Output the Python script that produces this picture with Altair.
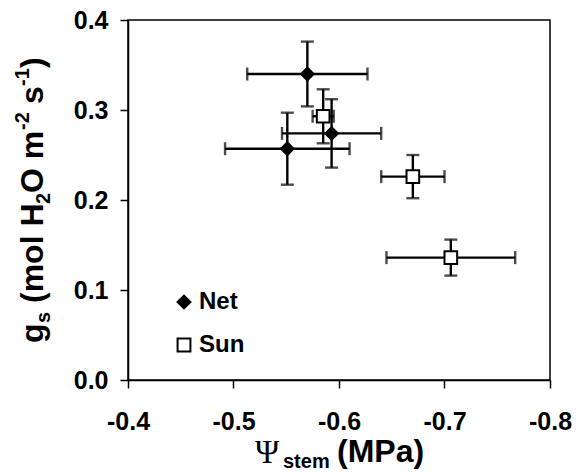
import altair as alt
import pandas as pd

# ---- data ----
series = ["Net", "Net", "Net", "Sun", "Sun", "Sun"]
psi = [-0.570, -0.593, -0.551, -0.585, -0.670, -0.706]
psi_err = [0.057, 0.047, 0.059, 0.010, 0.030, 0.061]
gs = [0.340, 0.274, 0.257, 0.293, 0.226, 0.136]
gs_err = [0.036, 0.038, 0.040, 0.030, 0.024, 0.020]

x_ticks = [-0.4, -0.5, -0.6, -0.7, -0.8]
y_ticks = [0.0, 0.1, 0.2, 0.3, 0.4]
legend_names = ["Net", "Sun"]
legend_shapes = ["diamond", "square"]
legend_fills = ["black", "white"]
legend_strokes = ["black", "black"]

df = pd.DataFrame({"series": series, "psi": psi, "psi_err": psi_err, "gs": gs, "gs_err": gs_err})
df["psi_lo"] = df["psi"] - df["psi_err"]
df["psi_hi"] = df["psi"] + df["psi_err"]
df["gs_lo"] = df["gs"] - df["gs_err"]
df["gs_hi"] = df["gs"] + df["gs_err"]

SANS = "Arial, Liberation Sans, sans-serif"
W, H = 422, 360
L, T = 128, 20

xs = alt.Scale(domain=[-0.4, -0.8], nice=False, zero=False)
ys = alt.Scale(domain=[0.0, 0.4], nice=False, zero=False)

lbl = "datum.value < 0 ? '-' + format(-datum.value, '.1f') : format(datum.value, '.1f')"
X = alt.X("psi:Q", scale=xs, axis=alt.Axis(values=x_ticks, labelExpr=lbl, title="", grid=False,
                                            labelFlush=False))
Y = alt.Y("gs:Q", scale=ys, axis=alt.Axis(values=y_ticks, format=".1f", title="", grid=False,
                                           labelFlush=False))

base = alt.Chart(df)
BW = 2.4

vbar = base.mark_rule(color="black", strokeWidth=BW).encode(
    x=alt.X("psi:Q", scale=xs), y=alt.Y("gs_lo:Q", scale=ys), y2="gs_hi:Q")
hbar = base.mark_rule(color="black", strokeWidth=BW).encode(
    y=alt.Y("gs:Q", scale=ys), x=alt.X("psi_lo:Q", scale=xs), x2="psi_hi:Q")
cap_lo = base.mark_tick(color="black", orient="horizontal", size=13, thickness=BW).encode(
    x=alt.X("psi:Q", scale=xs), y=alt.Y("gs_lo:Q", scale=ys))
cap_hi = base.mark_tick(color="black", orient="horizontal", size=13, thickness=BW).encode(
    x=alt.X("psi:Q", scale=xs), y=alt.Y("gs_hi:Q", scale=ys))
cap_l = base.mark_tick(color="black", orient="vertical", size=13, thickness=BW).encode(
    x=alt.X("psi_lo:Q", scale=xs), y=alt.Y("gs:Q", scale=ys))
cap_r = base.mark_tick(color="black", orient="vertical", size=13, thickness=BW).encode(
    x=alt.X("psi_hi:Q", scale=xs), y=alt.Y("gs:Q", scale=ys))

pts = base.mark_point(filled=True, strokeWidth=2, size=160, opacity=1).encode(
    x=X, y=Y,
    shape=alt.Shape("series:N", scale=alt.Scale(domain=legend_names, range=legend_shapes),
                    legend=alt.Legend(title=None, orient="none", legendX=44, legendY=270,
                                      labelFont=SANS, labelFontWeight="bold", labelFontSize=24,
                                      labelColor="black", symbolStrokeWidth=2, symbolSize=165,
                                      rowPadding=19, labelOffset=3, padding=0)),
    fill=alt.Fill("series:N", scale=alt.Scale(domain=legend_names, range=legend_fills)),
    stroke=alt.Stroke("series:N", scale=alt.Scale(domain=legend_names, range=legend_strokes)),
)


def txt(s, x, y, size, angle=0, font=SANS, weight="bold"):
    kw = dict(align="left", baseline="alphabetic", fontSize=size, font=font,
              fontWeight=weight, color="black")
    if angle:
        kw["angle"] = angle
    return alt.Chart(pd.DataFrame({"t": [s]})).mark_text(**kw).encode(
        text="t:N", x=alt.value(x - L), y=alt.value(y - T))


MAIN, SUB = 32, 20
titles = [
    # x title
    txt("\u03a8", 255, 463, 33, font="Liberation Serif, Times New Roman, serif", weight="normal"),
    txt("stem", 283, 468, SUB),
    txt("(MPa)", 337, 462, MAIN),
    # y title (rotated)
    txt("g", 43, 343, MAIN, angle=270),
    txt("s", 50, 323, SUB, angle=270),
    txt("(mol H", 43, 303, MAIN, angle=270),
    txt("2", 50, 204, SUB, angle=270),
    txt("O m", 43, 193, MAIN, angle=270),
    txt("-2", 29, 130, SUB, angle=270),
    txt("s", 43, 104, MAIN, angle=270),
    txt("-1", 29, 86, SUB, angle=270),
    txt(")", 43, 68, MAIN, angle=270),
]

chart = alt.layer(vbar, hbar, cap_lo, cap_hi, cap_l, cap_r, pts, *titles).properties(
    width=W, height=H,
    autosize=alt.AutoSizeParams(type="none"),
    padding={"left": L, "top": T, "right": 582 - L - W, "bottom": 472 - T - H},
).configure_view(stroke="black", strokeWidth=1.5).configure_axis(
    domainColor="black", domainWidth=1.5, tickColor="black", tickWidth=1.5, tickSize=8,
    labelFont=SANS, labelFontWeight="bold", labelFontSize=25, labelColor="black",
).configure_axisX(labelPadding=21).configure_axisY(labelPadding=12)

chart.save("out.html", embed_options={"renderer": "svg", "actions": False})
